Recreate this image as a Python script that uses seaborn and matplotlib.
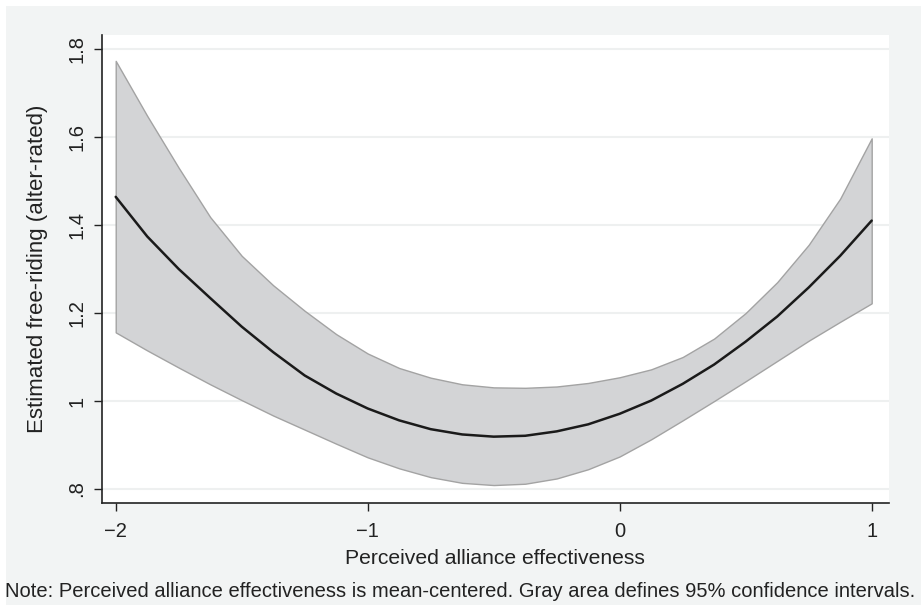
import numpy as np
import pandas as pd
import seaborn as sns
import matplotlib.pyplot as plt
from matplotlib.patches import Rectangle

# values
effectiveness = [-2.0, -1.875, -1.75, -1.625, -1.5, -1.375, -1.25, -1.125, -1.0,
                 -0.875, -0.75, -0.625, -0.5, -0.375, -0.25, -0.125, 0.0,
                 0.125, 0.25, 0.375, 0.5, 0.625, 0.75, 0.875, 1.0]
estimate = [1.464, 1.374, 1.300, 1.234, 1.169, 1.111, 1.058, 1.017, 0.983,
            0.956, 0.936, 0.924, 0.919, 0.921, 0.931, 0.947, 0.971,
            1.001, 1.039, 1.083, 1.135, 1.192, 1.258, 1.330, 1.410]
upper = [1.773, 1.648, 1.530, 1.418, 1.330, 1.263, 1.205, 1.152, 1.108,
         1.075, 1.053, 1.038, 1.031, 1.030, 1.033, 1.041, 1.054,
         1.072, 1.100, 1.142, 1.200, 1.270, 1.355, 1.460, 1.597]
lower = [1.156, 1.115, 1.076, 1.038, 1.002, 0.967, 0.935, 0.903, 0.872,
         0.847, 0.827, 0.814, 0.809, 0.812, 0.824, 0.845, 0.874,
         0.913, 0.956, 1.000, 1.045, 1.091, 1.137, 1.180, 1.222]

xticks = [-2, -1, 0, 1]
xticklabels = ['\u22122', '\u22121', '0', '1']
yticks = [0.8, 1.0, 1.2, 1.4, 1.6, 1.8]
yticklabels = ['.8', '1', '1.2', '1.4', '1.6', '1.8']

df = pd.DataFrame({'x': effectiveness, 'est': estimate, 'lo': lower, 'hi': upper})

sns.set_style('ticks')
plt.rcParams['font.family'] = ['Liberation Sans', 'DejaVu Sans']

bg = '#f2f4f4'
fig = plt.figure(figsize=(9.21, 6.05), dpi=100, facecolor=bg)
# thin white strips along the top and left edge
fig.patches.append(Rectangle((0, 1 - 6 / 605), 1, 6 / 605, transform=fig.transFigure,
                             facecolor='white', edgecolor='none', zorder=-1))
fig.patches.append(Rectangle((0, 0), 6 / 921, 1, transform=fig.transFigure,
                             facecolor='white', edgecolor='none', zorder=-1))
ax = fig.add_axes([101.7 / 921, 1 - 502.7 / 605, (889 - 101.7) / 921, (502.7 - 35) / 605])
ax.set_facecolor('white')

for yv in yticks:
    ax.axhline(yv, color='#eef0f0', lw=1.5, zorder=0)

ax.fill_between(df['x'], df['lo'], df['hi'], facecolor='#d3d4d6', edgecolor='#a3a3a3',
                linewidth=1.0, zorder=1)
sns.lineplot(data=df, x='x', y='est', color='#1a1a1a', linewidth=1.8, ax=ax, zorder=2)

ax.set_xlim(-2.0556, 1.0687)
ax.set_ylim(0.7689, 1.8318)
ax.set_xticks(xticks)
ax.set_xticklabels(xticklabels)
ax.set_yticks(yticks)
ax.set_yticklabels(yticklabels, rotation=90, va='center')

for side in ['top', 'right']:
    ax.spines[side].set_visible(False)
for side in ['left', 'bottom']:
    ax.spines[side].set_color('#222222')
    ax.spines[side].set_linewidth(1.2)
ax.tick_params(axis='both', length=6, width=1.0, color='#222222', labelsize=14.5,
               labelcolor='#222222', pad=5)
ax.tick_params(axis='x', pad=8)

ax.set_xlabel('Perceived alliance effectiveness', fontsize=15.2, color='#222222', labelpad=6)
ax.set_ylabel('Estimated free-riding (alter-rated)', fontsize=16, color='#222222', labelpad=14)

fig.text(0.5, 1 - 591.7 / 605,
         'Note: Perceived alliance effectiveness is mean-centered. Gray area defines 95% confidence intervals.',
         ha='center', va='center', fontsize=14.5, color='#222222')

fig.savefig('out.png', dpi=100, facecolor=fig.get_facecolor())
